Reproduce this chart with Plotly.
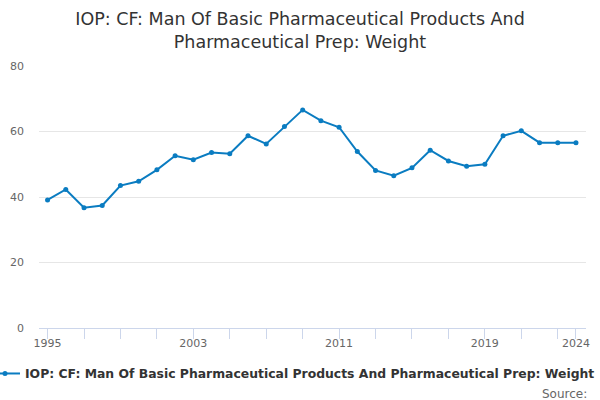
import plotly.graph_objects as go

years = list(range(1995, 2025))
values = [39.1, 42.3, 36.7, 37.4, 43.5, 44.8, 48.3, 52.6, 51.4, 53.6, 53.2, 58.7,
          56.2, 61.5, 66.6, 63.3, 61.3, 53.9, 48.1, 46.5, 48.9, 54.3, 51.0, 49.4,
          50.0, 58.7, 60.2, 56.6, 56.6, 56.6]
tick_vals = list(range(1995, 2024, 2)) + [2024]
tick_text = [str(y) if y in (1995, 2003, 2011, 2019, 2024) else "" for y in tick_vals]
y_ticks = [0, 20, 40, 60, 80]
series_name = "IOP: CF: Man Of Basic Pharmaceutical Products And Pharmaceutical Prep: Weight"
title_text = "IOP: CF: Man Of Basic Pharmaceutical Products And<br>Pharmaceutical Prep: Weight"

color = "#0a7cc1"
font = "DejaVu Sans"

fig = go.Figure()
fig.add_trace(go.Scatter(
    x=years, y=values, mode="lines+markers", name=series_name,
    line=dict(color=color, width=2), marker=dict(color=color, size=5),
))

fig.update_layout(
    width=600, height=400,
    margin=dict(l=39, r=14, t=66, b=72, autoexpand=False),
    paper_bgcolor="white", plot_bgcolor="white",
    font=dict(family=font, color="#666666", size=11),
    title=dict(text=title_text, x=0.5, xanchor="center", xref="container",
               yref="container", y=0.937, yanchor="top",
               font=dict(family=font, size=17.5, color="#333333")),
    showlegend=True,
    legend=dict(orientation="h", xref="paper", yref="paper",
                x=-0.0987, xanchor="left", y=-0.118, yanchor="top",
                itemwidth=30, font=dict(family=font, size=12.4, color="#333333",
                                        weight="bold"),
                bgcolor="rgba(0,0,0,0)"),
    xaxis=dict(range=[1994.53, 2024.55], tickmode="array", tickvals=tick_vals,
               ticktext=tick_text, showgrid=False, showline=True,
               linecolor="#ccd6eb", linewidth=1, ticks="outside", ticklen=10,
               tickcolor="#ccd6eb", zeroline=False, ticklabelstandoff=-5,
               tickfont=dict(family=font, size=11, color="#666666")),
    yaxis=dict(range=[0, 80], tickvals=y_ticks, showgrid=True, gridcolor="#e6e6e6",
               gridwidth=1, zeroline=False, showline=False, ticks="",
               ticklabelstandoff=14,
               tickfont=dict(family=font, size=11, color="#666666")),
    annotations=[dict(text="Source:", xref="paper", yref="paper", x=1.0055, y=-0.2176,
                      xanchor="right", yanchor="top", showarrow=False,
                      font=dict(family=font, size=12, color="#666666"))],
)

fig.write_html("out.html", config={"displayModeBar": False},
               post_script="document.body.style.margin='0';")
